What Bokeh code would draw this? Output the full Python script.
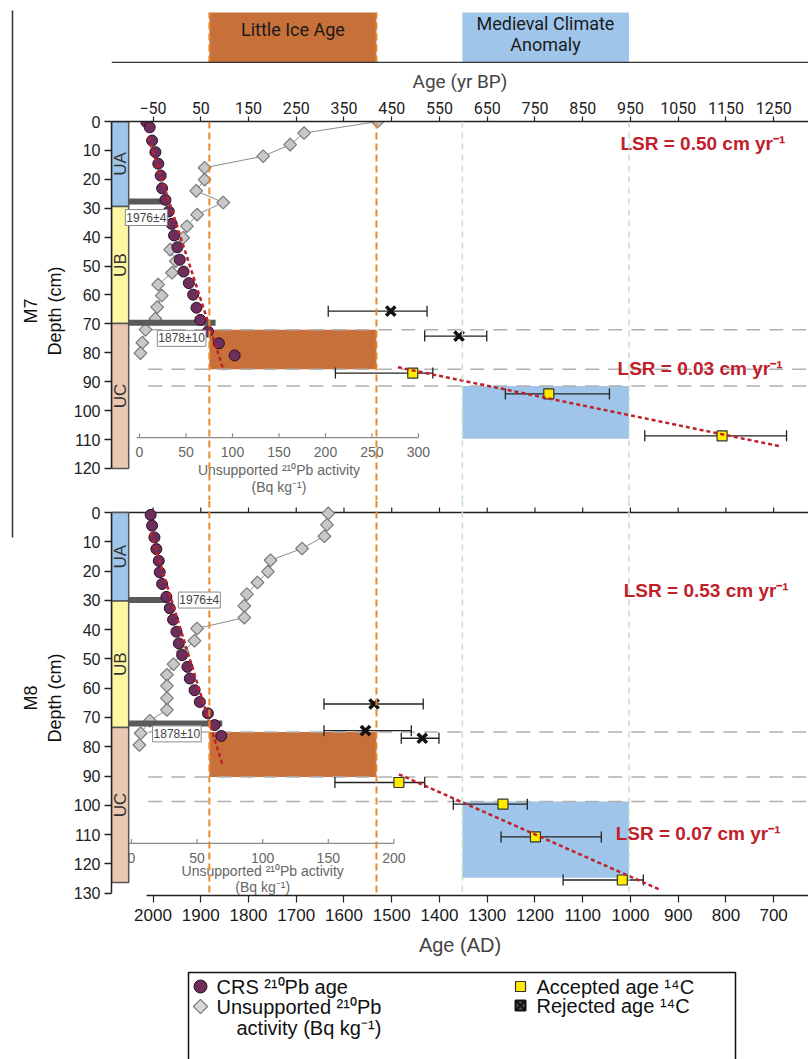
import numpy as np
from bokeh.plotting import figure
from bokeh.models import Range1d, LinearAxis, FixedTicker, Span, Label
from bokeh.layouts import column, row
from bokeh.embed import file_html
from bokeh.resources import INLINE
from bokeh.core.properties import value

FONT = "Liberation Sans"
NARROW = "Roboto"

# ---------------- data ----------------
lia_ad = [1882, 1532]          # Little Ice Age limits (AD)
mca_ad = [1352, 1003]          # Medieval Climate Anomaly limits (AD)
ad_ticks = [2000, 1900, 1800, 1700, 1600, 1500, 1400, 1300, 1200, 1100, 1000, 900, 800, 700]
bp_ticks = [-50, 50, 150, 250, 350, 450, 550, 650, 750, 850, 950, 1050, 1150, 1250]
m7_depth_ticks = list(range(0, 121, 10))
m8_depth_ticks = list(range(0, 131, 10))
pb7_ticks = [0, 50, 100, 150, 200, 250, 300]
pb8_ticks = [0, 50, 100, 150, 200]

units = ["UA", "UB", "UC"]
unit_colors = ["#9fc6ea", "#fdf6a3", "#ebc8b2"]
m7_unit_top = [0, 29.4, 69.9]
m7_unit_bottom = [29.4, 69.9, 120]
m8_unit_top = [0, 30.2, 73.4]
m8_unit_bottom = [30.2, 73.4, 126.4]

m7_lia_depth = [72.0, 85.7]
m7_mca_depth = [91.5, 109.7]
m8_lia_depth = [75.0, 90.3]
m8_mca_depth = [98.7, 124.7]

# CRS 210Pb ages
m7_crs_depth = [0.2, 2.0, 6.6, 10.6, 14.6, 18.7, 23.1, 27.1, 31.1, 35.4, 39.4, 43.5, 47.8,
                51.9, 55.9, 59.9, 64.4, 68.6, 72.6, 76.7, 80.9]
m7_crs_age = [2014, 2007, 2002, 1995, 1989, 1984, 1981, 1974, 1967, 1961, 1956, 1949, 1944,
              1936, 1925, 1916, 1909, 1901, 1885, 1862, 1829]
m8_crs_depth = [0.8, 4.5, 8.5, 12.5, 16.5, 20.4, 24.4, 28.8, 32.7, 36.6, 40.7, 44.7, 48.7,
                52.7, 56.7, 60.7, 64.7, 68.6, 72.6, 76.3]
m8_crs_age = [2005, 2002, 1997, 1993, 1988, 1986, 1981, 1972, 1965, 1958, 1951, 1946, 1939,
              1928, 1923, 1913, 1902, 1885, 1871, 1857]

# unsupported 210Pb activity (Bq/kg)
m7_pb_depth = [0, 4.0, 8.0, 12.0, 16.0, 20.1, 24.0, 28.0, 32.2, 36.2, 40.2, 44.3, 48.3, 52.3,
               56.4, 60.2, 64.2, 68.2, 72.0, 76.5, 80.1]
m7_pb_act = [256, 177, 162, 133, 70, 70, 61, 90, 62, 51, 47, 33, 39, 35, 20, 24, 19, 17, 6.5, 3, 1]
m8_pb_depth = [0.3, 4.2, 8.1, 12.3, 16.3, 20.2, 23.9, 27.9, 31.9, 35.9, 39.6, 43.8, 47.6, 51.8,
               55.4, 59.2, 63.4, 67.4, 71.1, 75.4, 79.4]
m8_pb_act = [150, 149, 147, 130, 106, 104, 96, 88, 86, 86, 50, 48, 39, 32, 27, 27, 27, 27, 14, 7, 6]

# 137Cs / 210Pb time markers
date_labels = ["1976±4", "1878±10"]
m7_date_depth = [27.7, 69.6]
m7_date_end = [1968, 1869]
m8_date_depth = [29.9, 72.1]
m8_date_end = [1970, 1855]

# 14C ages (AD): calibrated median, young and old limits
m7_acc_depth = [87.0, 94.2, 108.7]
m7_acc_age = [1456, 1171, 808]
m7_acc_young = [1618, 1262, 970]
m7_acc_old = [1414, 1044, 673]
m7_rej_depth = [65.6, 74.2]
m7_rej_age = [1502, 1359]
m7_rej_young = [1633, 1431]
m7_rej_old = [1426, 1301]

m8_acc_depth = [92.2, 99.6, 110.8, 125.5]
m8_acc_age = [1485, 1267, 1199, 1017]
m8_acc_young = [1619, 1371, 1271, 1141]
m8_acc_old = [1431, 1216, 1061, 973]
m8_rej_depth = [65.4, 74.5, 77.1]
m8_rej_age = [1537, 1555, 1436]
m8_rej_young = [1642, 1642, 1480]
m8_rej_old = [1434, 1459, 1401]

# linear sedimentation rate fits
m7_pb_fit_age = [2010, 1852]
m7_pb_fit_depth = [5.4, 86.1]
m7_c14_fit_age = [1487, 687]
m7_c14_fit_depth = [85.0, 112.3]
m8_pb_fit_age = [2005, 1855]
m8_pb_fit_depth = [6.8, 85.9]
m8_c14_fit_age = [1485, 937]
m8_c14_fit_depth = [89.4, 128.9]

m7_lsr = ["LSR = 0.50 cm yr⁻¹", "LSR = 0.03 cm yr⁻¹"]
m7_lsr_depth = [7.7, 85.5]
m8_lsr = ["LSR = 0.53 cm yr⁻¹", "LSR = 0.07 cm yr⁻¹"]
m8_lsr_depth = [26.6, 109.7]

legend_labels = ["CRS ²¹⁰Pb age", "Unsupported ²¹⁰Pb", "activity (Bq kg⁻¹)",
                 "Accepted age ¹⁴C", "Rejected age ¹⁴C"]

# ---------------- styles ----------------
LIA_COL = "#c8703a"
MCA_COL = "#9fc6ea"
ORANGE_DASH = "#e88a2e"
GREEN_DASH = "#c3e0c0"
RED = "#c0202a"
PURPLE = "#6e2e5c"
AXIS_COL = "#222222"
SIDE = 16          # width of the strip that holds the left bracket line

X_RANGE = Range1d(start=2087, end=627)


def base_fig(height, top, bottom, y_range, x_range=X_RANGE):
    p = figure(width=808 - SIDE, height=height, x_range=x_range, y_range=y_range,
               output_backend="svg", toolbar_location=None,
               min_border_left=111 - SIDE, min_border_right=0,
               min_border_top=top, min_border_bottom=bottom,
               x_axis_location=None, y_axis_location=None)
    p.xgrid.visible = False
    p.ygrid.visible = False
    p.outline_line_color = None
    p.background_fill_color = "white"
    p.border_fill_color = "white"
    return p


def depth_axis(p, ticks, bound, label):
    ax = LinearAxis(ticker=FixedTicker(ticks=ticks), bounds=(0, bound),
                    axis_label=label)
    ax.axis_line_color = AXIS_COL
    ax.axis_line_width = 1.5
    ax.major_tick_line_color = AXIS_COL
    ax.major_tick_line_width = 1.5
    ax.major_tick_out = 7
    ax.major_tick_in = 0
    ax.minor_tick_line_color = None
    ax.major_label_text_font = FONT
    ax.major_label_text_font_size = "16px"
    ax.major_label_text_color = "#222222"
    ax.major_label_standoff = 4
    ax.axis_label_text_font = FONT
    ax.axis_label_text_font_size = "18px"
    ax.axis_label_text_font_style = "normal"
    ax.axis_label_text_color = "#111111"
    ax.axis_label_standoff = 6
    p.add_layout(ax, "left")


def panel(p, d):
    # climate period boxes
    p.quad(left=[lia_ad[0]], right=[lia_ad[1]], top=[d["lia"][0]], bottom=[d["lia"][1]],
           fill_color=LIA_COL, line_color=None)
    p.quad(left=[mca_ad[0]], right=[mca_ad[1]], top=[d["mca"][0]], bottom=[d["mca"][1]],
           fill_color=MCA_COL, line_color=None)
    hl = [d["lia"][0], d["lia"][1], d["mca"][0]]
    p.segment(x0=[2010] * 3, x1=[627] * 3, y0=hl, y1=hl, line_color="#b0b0b0",
              line_width=1.5, line_dash="14 9")

    # inset activity axis
    rn = d["pb_range"]
    ya = d["pb_axis_depth"]
    pt = d["pb_ticks"]
    p.segment(x0=[-3], x1=[pt[-1]], y0=[ya], y1=[ya], line_color="#8a8a8a",
              line_width=1.2, x_range_name=rn)
    p.segment(x0=pt, x1=pt, y0=[ya] * len(pt), y1=[ya - 1.5] * len(pt),
              line_color="#8a8a8a", line_width=1.2, x_range_name=rn)
    p.text(x=pt, y=[d["pb_label_depth"]] * len(pt), text=[str(t) for t in pt],
           text_font=value(FONT), text_font_size="14px", text_color="#666666",
           text_align="center", text_baseline="middle", x_range_name=rn)
    p.text(x=[d["pb_title_x"]] * 2, y=d["pb_title_depth"],
           text=["Unsupported ²¹⁰Pb activity", "(Bq kg⁻¹)"],
           text_font=value(FONT), text_font_size="14px", text_color="#666666",
           text_align="center", text_baseline="middle", x_range_name=rn)

    # unsupported activity
    p.line(x=d["pb_act"], y=d["pb_depth"], line_color="#8c8c8c", line_width=1,
           x_range_name=rn)
    p.scatter(x=d["pb_act"], y=d["pb_depth"], marker="square", angle=np.pi / 4, size=9,
              fill_color="#c8c8c8", line_color="#7a7a7a", line_width=1.2, x_range_name=rn)

    # time markers
    col_right = 2051
    p.segment(x0=[col_right] * 2, x1=d["date_end"], y0=d["date_depth"], y1=d["date_depth"],
              line_color="#5a5a5a", line_width=6)

    # lithological column
    p.quad(left=[2087] * 3, right=[col_right] * 3, top=d["unit_top"], bottom=d["unit_bottom"],
           fill_color=unit_colors, line_color="#555555", line_width=1.5)
    mids = [(a + b) / 2 for a, b in zip(d["unit_top"], d["unit_bottom"])]
    p.text(x=[2068] * 3, y=mids, text=units, angle=np.pi / 2, text_font=value(FONT),
           text_font_size="17px", text_color="#333333", text_align="center",
           text_baseline="middle")

    # 14C error bars
    for dep, yo, ol in ((d["acc_depth"], d["acc_young"], d["acc_old"]),
                        (d["rej_depth"], d["rej_young"], d["rej_old"])):
        p.segment(x0=yo, x1=ol, y0=dep, y1=dep, line_color="#222222", line_width=1.3)
        p.scatter(x=yo + ol, y=dep + dep, marker="dash", angle=np.pi / 2, size=11,
                  line_color="#222222", line_width=1.3)
    p.scatter(x=d["acc_age"], y=d["acc_depth"], marker="square", size=10,
              fill_color="#ffec00", line_color="#333333", line_width=1.2)
    p.scatter(x=d["rej_age"], y=d["rej_depth"], marker="x", size=13,
              line_color="#111111", line_width=3.5)

    # CRS ages
    p.scatter(x=d["crs_age"], y=d["crs_depth"], marker="circle", size=11,
              fill_color=PURPLE, line_color="#2b0f25", line_width=1)

    # fits
    p.line(x=d["pb_fit_age"], y=d["pb_fit_depth"], line_color=RED, line_width=2.5,
           line_dash="4 3")
    p.line(x=d["c14_fit_age"], y=d["c14_fit_depth"], line_color=RED, line_width=2.5,
           line_dash="4 3")

    # period limits
    for a in lia_ad:
        p.add_layout(Span(location=a, dimension="height", line_color=ORANGE_DASH,
                          line_width=2, line_dash="7 4"))
    for a in mca_ad:
        p.add_layout(Span(location=a, dimension="height", line_color=GREEN_DASH,
                          line_width=1.5, line_dash="6 5"))

    # date labels
    for (lx, ly), t in zip(d["label_pos"], date_labels):
        p.add_layout(Label(x=lx, y=ly, text=t, text_font=FONT, text_font_size="12px",
                           text_color="#444444", text_align="left", text_baseline="middle",
                           background_fill_color="white", border_line_color="#8a8a8a",
                           border_line_width=1, padding=1))

    # LSR labels
    p.text(x=d["lsr_x"], y=d["lsr_depth"], text=d["lsr"], text_font=value(FONT),
           text_font_size="19px", text_font_style="bold", text_color=RED,
           text_align="left", text_baseline="middle")


# ---------------- top band ----------------
top = base_fig(63, 0, 0, Range1d(0, 63))
top.quad(left=[lia_ad[0]], right=[lia_ad[1]], bottom=[1], top=[51], fill_color=LIA_COL,
         line_color=None)
top.quad(left=[mca_ad[0]], right=[mca_ad[1]], bottom=[1], top=[51], fill_color=MCA_COL,
         line_color=None)
top.segment(x0=lia_ad, x1=lia_ad, y0=[1, 1], y1=[51, 51], line_color=ORANGE_DASH,
            line_width=2, line_dash="7 4")
top.segment(x0=[2087], x1=[627], y0=[1], y1=[1], line_color="#333333", line_width=1.5)
top.text(x=[1707], y=[34], text=["Little Ice Age"], text_font=value(NARROW),
         text_font_size="18px", text_color="#1a1a1a", text_align="center",
         text_baseline="middle")
top.text(x=[1178, 1178], y=[40, 19], text=["Medieval Climate", "Anomaly"],
         text_font=value(NARROW), text_font_size="18px", text_color="#1a1a1a",
         text_align="center", text_baseline="middle")

# ---------------- M7 ----------------
m7 = base_fig(437, 58, 0, Range1d(131.07, 0))
m7.extra_x_ranges = {"bp": Range1d(1950 - 2087, 1950 - 627),
                     "pb7": Range1d(-30.1, 719.4)}
bp_axis = LinearAxis(x_range_name="bp", ticker=FixedTicker(ticks=bp_ticks),
                     axis_label="Age (yr BP)")
bp_axis.axis_line_color = AXIS_COL
bp_axis.axis_line_width = 1.5
bp_axis.major_tick_line_color = AXIS_COL
bp_axis.major_tick_line_width = 1.2
bp_axis.major_tick_out = 5
bp_axis.major_tick_in = 0
bp_axis.minor_tick_line_color = None
bp_axis.major_label_text_font = NARROW
bp_axis.major_label_text_font_size = "16px"
bp_axis.major_label_text_color = "#222222"
bp_axis.major_label_standoff = 3
bp_axis.axis_label_text_font = NARROW
bp_axis.axis_label_text_font_size = "19px"
bp_axis.axis_label_text_font_style = "normal"
bp_axis.axis_label_standoff = 6
m7.add_layout(bp_axis, "above")
depth_axis(m7, m7_depth_ticks, 120, "M7\nDepth (cm)")

panel(m7, dict(
    lia=m7_lia_depth, mca=m7_mca_depth, pb_range="pb7", pb_axis_depth=109.3,
    pb_ticks=pb7_ticks, pb_label_depth=114.4, pb_title_x=150, pb_title_depth=[120.6, 126.5],
    pb_act=m7_pb_act, pb_depth=m7_pb_depth, date_end=m7_date_end, date_depth=m7_date_depth,
    unit_top=m7_unit_top, unit_bottom=m7_unit_bottom,
    acc_depth=m7_acc_depth, acc_age=m7_acc_age, acc_young=m7_acc_young, acc_old=m7_acc_old,
    rej_depth=m7_rej_depth, rej_age=m7_rej_age, rej_young=m7_rej_young, rej_old=m7_rej_old,
    crs_age=m7_crs_age, crs_depth=m7_crs_depth,
    pb_fit_age=m7_pb_fit_age, pb_fit_depth=m7_pb_fit_depth,
    c14_fit_age=m7_c14_fit_age, c14_fit_depth=m7_c14_fit_depth,
    label_pos=[(2058, 33.2), (1991, 75.0)],
    lsr=m7_lsr, lsr_depth=m7_lsr_depth, lsr_x=[1021, 1027]))

# ---------------- M8 ----------------
m8 = base_fig(460, 0, 65, Range1d(130.8, -4.1))
m8.extra_x_ranges = {"pb8": Range1d(-15.24, 516.0)}
# top line of the M8 panel with upward ticks at the AD ticks
m8.segment(x0=[2087], x1=[627], y0=[0], y1=[0], line_color=AXIS_COL, line_width=1.5)
m8.segment(x0=ad_ticks, x1=ad_ticks, y0=[0] * len(ad_ticks), y1=[-1.7] * len(ad_ticks),
           line_color=AXIS_COL, line_width=1.2)
ad_axis = LinearAxis(ticker=FixedTicker(ticks=ad_ticks), bounds=(2013, 627),
                     axis_label="Age (AD)")
ad_axis.axis_line_color = AXIS_COL
ad_axis.axis_line_width = 1.5
ad_axis.major_tick_line_color = AXIS_COL
ad_axis.major_tick_line_width = 1.2
ad_axis.major_tick_out = 7
ad_axis.major_tick_in = 0
ad_axis.minor_tick_line_color = None
ad_axis.major_label_text_font = FONT
ad_axis.major_label_text_font_size = "17px"
ad_axis.major_label_text_color = "#1a1a1a"
ad_axis.major_label_standoff = 6
ad_axis.axis_label_text_font = FONT
ad_axis.axis_label_text_font_size = "20px"
ad_axis.axis_label_text_font_style = "normal"
ad_axis.axis_label_standoff = 10
m8.add_layout(ad_axis, "below")
depth_axis(m8, m8_depth_ticks, 130, "M8\nDepth (cm)")

panel(m8, dict(
    lia=m8_lia_depth, mca=m8_mca_depth, pb_range="pb8", pb_axis_depth=113.0,
    pb_ticks=pb8_ticks, pb_label_depth=117.9, pb_title_x=100, pb_title_depth=[122.4, 127.8],
    pb_act=m8_pb_act, pb_depth=m8_pb_depth, date_end=m8_date_end, date_depth=m8_date_depth,
    unit_top=m8_unit_top, unit_bottom=m8_unit_bottom,
    acc_depth=m8_acc_depth, acc_age=m8_acc_age, acc_young=m8_acc_young, acc_old=m8_acc_old,
    rej_depth=m8_rej_depth, rej_age=m8_rej_age, rej_young=m8_rej_young, rej_old=m8_rej_old,
    crs_age=m8_crs_age, crs_depth=m8_crs_depth,
    pb_fit_age=m8_pb_fit_age, pb_fit_depth=m8_pb_fit_depth,
    c14_fit_age=m8_c14_fit_age, c14_fit_depth=m8_c14_fit_depth,
    label_pos=[(1947, 29.9), (2001, 75.6)],
    lsr=m8_lsr, lsr_depth=m8_lsr_depth, lsr_x=[1014, 1031]))

# ---------------- legend ----------------
leg = base_fig(99, 0, 0, Range1d(99, 0), x_range=Range1d(0, 697))
leg.quad(left=[77], right=[624], top=[12], bottom=[101], fill_color=None,
         line_color="#111111", line_width=1.5)
leg.scatter(x=[89], y=[26], marker="circle", size=13, fill_color=PURPLE,
            line_color="#2b0f25", line_width=1)
leg.scatter(x=[89], y=[46], marker="square", angle=np.pi / 4, size=10, fill_color="#d8d8d8",
            line_color="#7a7a7a", line_width=1.2)
leg.scatter(x=[409], y=[26], marker="square", size=10, fill_color="#ffec00",
            line_color="#333333", line_width=1.2)
leg.scatter(x=[409], y=[45], marker="square_x", size=10, fill_color="#555555",
            line_color="#111111", line_width=2)
leg.text(x=[105, 105, 125, 425, 425], y=[26, 46, 67, 26, 45], text=legend_labels,
         text_font=value(FONT), text_font_size="20px", text_color="#111111",
         text_align="left", text_baseline="middle")

# ---------------- left bracket strip ----------------
side = figure(width=SIDE, height=1059, x_range=Range1d(0, SIDE), y_range=Range1d(1059, 0),
              output_backend="svg", toolbar_location=None, min_border=0,
              x_axis_location=None, y_axis_location=None)
side.xgrid.visible = False
side.ygrid.visible = False
side.outline_line_color = None
side.segment(x0=[12], x1=[12], y0=[10], y1=[537], line_color="#333333", line_width=1.5)

layout = row(side, column(top, m7, m8, leg, spacing=0), spacing=0)
open("out.html", "w").write(file_html(layout, INLINE))
